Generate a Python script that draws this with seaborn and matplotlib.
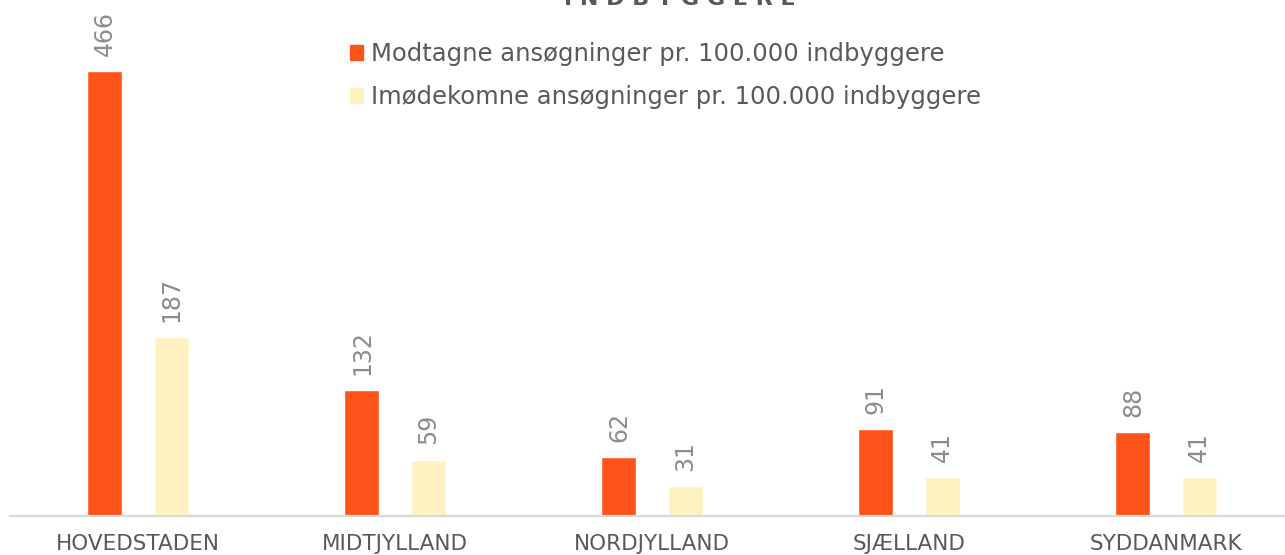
import seaborn as sns
import matplotlib.pyplot as plt
import pandas as pd
from matplotlib.patches import Patch

# data
regioner = ['HOVEDSTADEN', 'MIDTJYLLAND', 'NORDJYLLAND', 'SJÆLLAND', 'SYDDANMARK']
modtagne = [466, 132, 62, 91, 88]
imodekomne = [187, 59, 31, 41, 41]
serier = ['Modtagne ansøgninger pr. 100.000 indbyggere',
          'Imødekomne ansøgninger pr. 100.000 indbyggere']

df = pd.DataFrame({
    'region': regioner * 2,
    'serie': [serier[0]] * len(regioner) + [serier[1]] * len(regioner),
    'vaerdi': modtagne + imodekomne,
})

sns.set_theme(style='white')
plt.rcParams['font.family'] = ['DejaVu Sans']

fig = plt.figure(figsize=(12.85, 5.55), dpi=100)
# akserne går lidt ud over højre kant ligesom i originalen
ax = fig.add_axes([9.5 / 1285, 39 / 555, 1285 / 1285, 477.5 / 555])

sns.barplot(data=df, x='region', y='vaerdi', hue='serie',
            palette=['#FF5419', '#FFF2C0'], width=0.514, gap=0.47,
            saturation=1, ax=ax, legend=False)

for c in ax.containers:
    ax.bar_label(c, rotation=90, padding=11, fontsize=17, color='#8c8c8c')

ax.set_ylim(0, 500)
ax.set_xlim(-0.5, 4.5)
ax.set_xlabel('')
ax.set_ylabel('')
ax.set_yticks([])
ax.tick_params(axis='x', length=0, labelsize=15.5, colors='#595959', pad=13)
for s in ['top', 'right', 'left']:
    ax.spines[s].set_visible(False)
ax.spines['bottom'].set_color('#d9d9d9')
ax.spines['bottom'].set_linewidth(1.6)

# legend
handles = [Patch(color='#FF5419'), Patch(color='#FFF2C0')]
fig.legend(handles, serier, loc='upper left', bbox_to_anchor=(328 / 1285, 1 - 20 / 555),
           frameon=False, fontsize=17.5, labelcolor='#595959',
           handlelength=0.55, handleheight=0.55, handletextpad=0.3, labelspacing=0.8)

# titlen er skåret af i toppen, ligesom i originalen
fig.text(680 / 1285, 1 - 5 / 555, 'I N D B Y G G E R E', ha='center', va='baseline',
         fontsize=16, fontweight='bold', color='#595959')

fig.savefig('out.png', dpi=100)
